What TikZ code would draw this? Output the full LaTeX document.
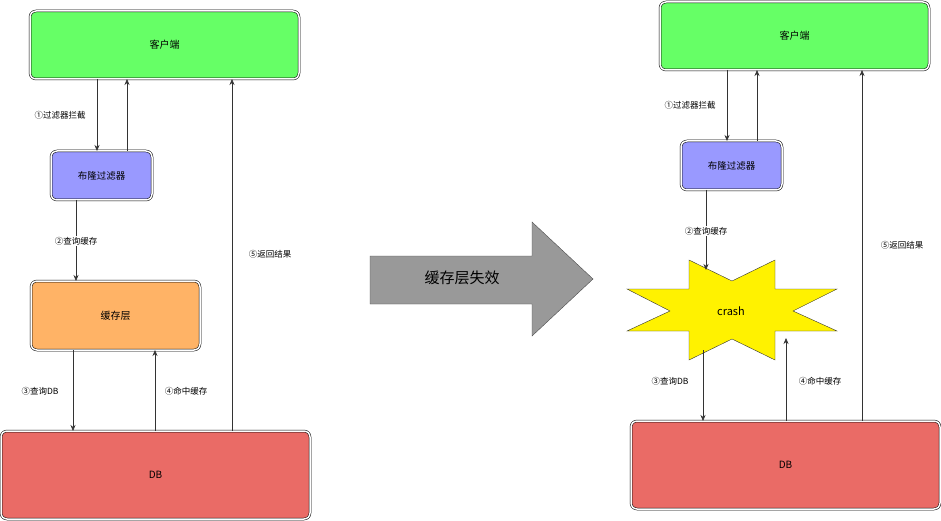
\documentclass[tikz,border=0pt]{standalone}
\usepackage{fontspec}
\setmainfont{Noto Sans CJK SC}
\usetikzlibrary{arrows.meta}
\definecolor{cgreen}{HTML}{66FF66}
\definecolor{cblue}{HTML}{9999FF}
\definecolor{corange}{HTML}{FFB366}
\definecolor{cred}{HTML}{EA6B66}
\definecolor{cgray}{HTML}{999999}
\begin{document}
\begin{tikzpicture}[x=1pt,y=-1pt,
  box/.style={draw=black,double=black!0,double distance=1.5pt,line width=0.5pt,rounded corners=6pt,font=\fontsize{11}{13}\selectfont},
  arr/.style={-{Stealth[length=6pt,width=5pt]},draw=black!80,line width=0.6pt},
  lbl/.style={font=\fontsize{8.5}{10}\selectfont,fill=white,inner sep=1pt}]
\useasboundingbox (0,0) rectangle (941,521);
% left
\draw[box,fill=cgreen] (30,11) rectangle (299,79); \node (c1) at (164.5,45) {客户端};
\coordinate (c1s) at (30,11); \coordinate (c1e) at (299,79);
\draw[box,fill=cblue] (51,151) rectangle (152,200); \node (b1) at (101.5,175.5) {\fontsize{9.5}{11}\selectfont 布隆过滤器};
\draw[box,fill=corange] (31,281) rectangle (200,350); \node (h1) at (115.5,315.5) {缓存层};
\draw[box,fill=cred] (1,431) rectangle (310,519); \node (d1) at (155.5,475) {DB};
\draw[arr] (97,79) -- (97,151);
\node[lbl] (l1) at (60,115) {①过滤器拦截};
\draw[arr] (127,151) -- (127,79);
\draw[arr] (76,200) -- (76,281);
\node[lbl] (l2) at (76,241) {②查询缓存};
\draw[arr] (73,350) -- (73,431);
\node[lbl] (l3) at (40,391) {③查询DB};
\draw[arr] (155,431) -- (155,350);
\node[lbl] (l4) at (186,391) {④命中缓存};
\draw[arr] (232,431) -- (232,79);
\node[lbl] (l5) at (270,254) {⑤返回结果};
% big arrow
\draw[fill=cgray,draw=black!70] (370,256) -- (532,256) -- (532,222) -- (593,279) -- (532,336) -- (532,304) -- (370,304) -- cycle;
\node (ba) at (462,278) {\fontsize{15}{17}\selectfont 缓存层失效};
% right
\draw[box,fill=cgreen] (660,2) rectangle (929,70); \node (c2) at (794.5,36) {客户端};
\draw[box,fill=cblue] (681,141) rectangle (782,190); \node (b2) at (731.5,165.5) {\fontsize{9.5}{11}\selectfont 布隆过滤器};
\draw[fill=yellow,draw=black!80] (689,260) -- (732,281) -- (775,260) -- (775,289) -- (837,289) -- (793,311) -- (837,331) -- (775,331) -- (775,360) -- (732,339) -- (689,360) -- (689,331) -- (627,331) -- (670,311) -- (627,289) -- (689,289) -- cycle;
\node (cr) at (731,311) {\fontsize{11}{13}\selectfont crash};
\draw[box,fill=cred] (631,421) rectangle (940,509); \node (d2) at (785.5,465) {DB};
\draw[arr] (727,70) -- (727,141);
\node[lbl] (r1) at (690,105) {①过滤器拦截};
\draw[arr] (757,141) -- (757,70);
\draw[arr] (706,190) -- (706,270);
\node[lbl] (r2) at (706,231) {②查询缓存};
\draw[arr] (703,350) -- (703,421);
\node[lbl] (r3) at (670,381) {③查询DB};
\draw[arr] (786,421) -- (786,338);
\node[lbl] (r4) at (820,381) {④命中缓存};
\draw[arr] (862,421) -- (862,70);
\node[lbl] (r5) at (902,245) {⑤返回结果};
\end{tikzpicture}
\end{document}
